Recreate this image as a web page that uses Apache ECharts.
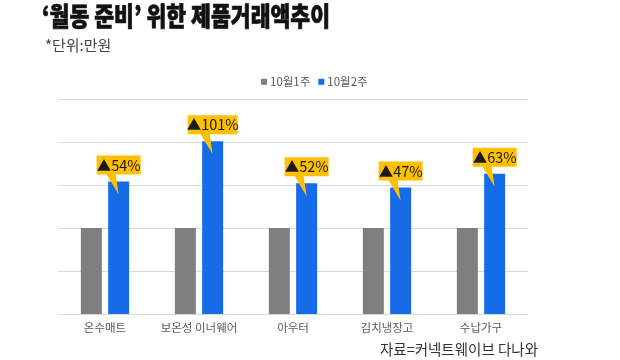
<!DOCTYPE html>
<html><head><meta charset="utf-8">
<script src="https://cdn.jsdelivr.net/npm/echarts@6/dist/echarts.min.js"></script>
<style>html,body{margin:0;padding:0;background:#fff}#c{width:620px;height:360px}</style>
</head><body><div id="c"></div>
<script>
const categories = ['온수매트', '보온성 이너웨어', '아우터', '김치냉장고', '수납가구'];
const seriesNames = ['10월1주', '10월2주'];
const week1 = [100, 100, 100, 100, 100];
const week2 = [154, 201, 152, 147, 163];
const changePct = [54, 101, 52, 47, 63];
const titleText = '‘월동 준비’ 위한 제품거래액추이';
const unitText = '*단위:만원';
const sourceText = '자료=커넥트웨이브 다나와';

const FONT = '"Noto Sans CJK KR", "Noto Sans", sans-serif';

function calloutPath(w) {
  const c = w / 2;
  return 'path://M0 0H' + w + 'V19H' + (c - 3) + 'L' + c + ' 39L' + (c - 12) + ' 19H0Z';
}

const markData = week2.map((v, i) => {
  const w = String(changePct[i]).length > 2 ? 50 : 44;
  return {
    coord: [i, v],
    value: changePct[i],
    symbol: calloutPath(w),
    symbolSize: [w, 39],
    symbolOffset: [0, -6.5],
    symbolKeepAspect: false
  };
});

const chart = echarts.init(document.getElementById('c'), null, {renderer: 'canvas'});
chart.setOption({
  animation: false,
  backgroundColor: '#ffffff',
  textStyle: {fontFamily: FONT},
  graphic: [
    {type: 'text', x: 42, y: 3, scaleX: 0.83,
      style: {text: titleText, font: '900 26px ' + FONT, fill: '#111111',
        stroke: '#111111', lineWidth: 0.7, textVerticalAlign: 'top'}},
    {type: 'text', x: 45, y: 38,
      style: {text: unitText, font: '15px ' + FONT, fill: '#444444', textVerticalAlign: 'top'}},
    {type: 'text', x: 538, y: 342,
      style: {text: sourceText, font: '14.5px ' + FONT, fill: '#333333', textAlign: 'right', textVerticalAlign: 'top'}}
  ],
  legend: {
    data: seriesNames,
    top: 71, left: 256,
    icon: 'rect', itemWidth: 6, itemHeight: 6, itemGap: 8,
    textStyle: {fontSize: 11.5, color: '#595959', fontFamily: FONT, padding: [0, 0, 0, -2]}
  },
  grid: {left: 58, right: 92, top: 99, bottom: 46, containLabel: false},
  xAxis: {
    type: 'category', data: categories,
    axisLine: {lineStyle: {color: '#d9d9d9'}},
    axisTick: {show: false},
    axisLabel: {color: '#595959', fontSize: 11.5, margin: 8, interval: 0, fontFamily: FONT}
  },
  yAxis: {
    type: 'value', min: 0, max: 250, interval: 50,
    axisLabel: {show: false}, axisLine: {show: false}, axisTick: {show: false},
    splitLine: {lineStyle: {color: '#d9d9d9'}}
  },
  series: [
    {name: seriesNames[0], type: 'bar', data: week1, barWidth: 21, barGap: '30%',
      itemStyle: {color: '#7f7f7f'}},
    {name: seriesNames[1], type: 'bar', data: week2, barWidth: 21,
      itemStyle: {color: '#166be8'},
      markPoint: {
        data: markData,
        itemStyle: {color: '#ffc000'},
        label: {show: true, position: 'inside', offset: [0, -10],
          formatter: p => '▲' + p.value + '%',
          color: '#1a1a1a', fontSize: 14.5, fontFamily: FONT}
      }}
  ]
});
</script>
</body></html>
